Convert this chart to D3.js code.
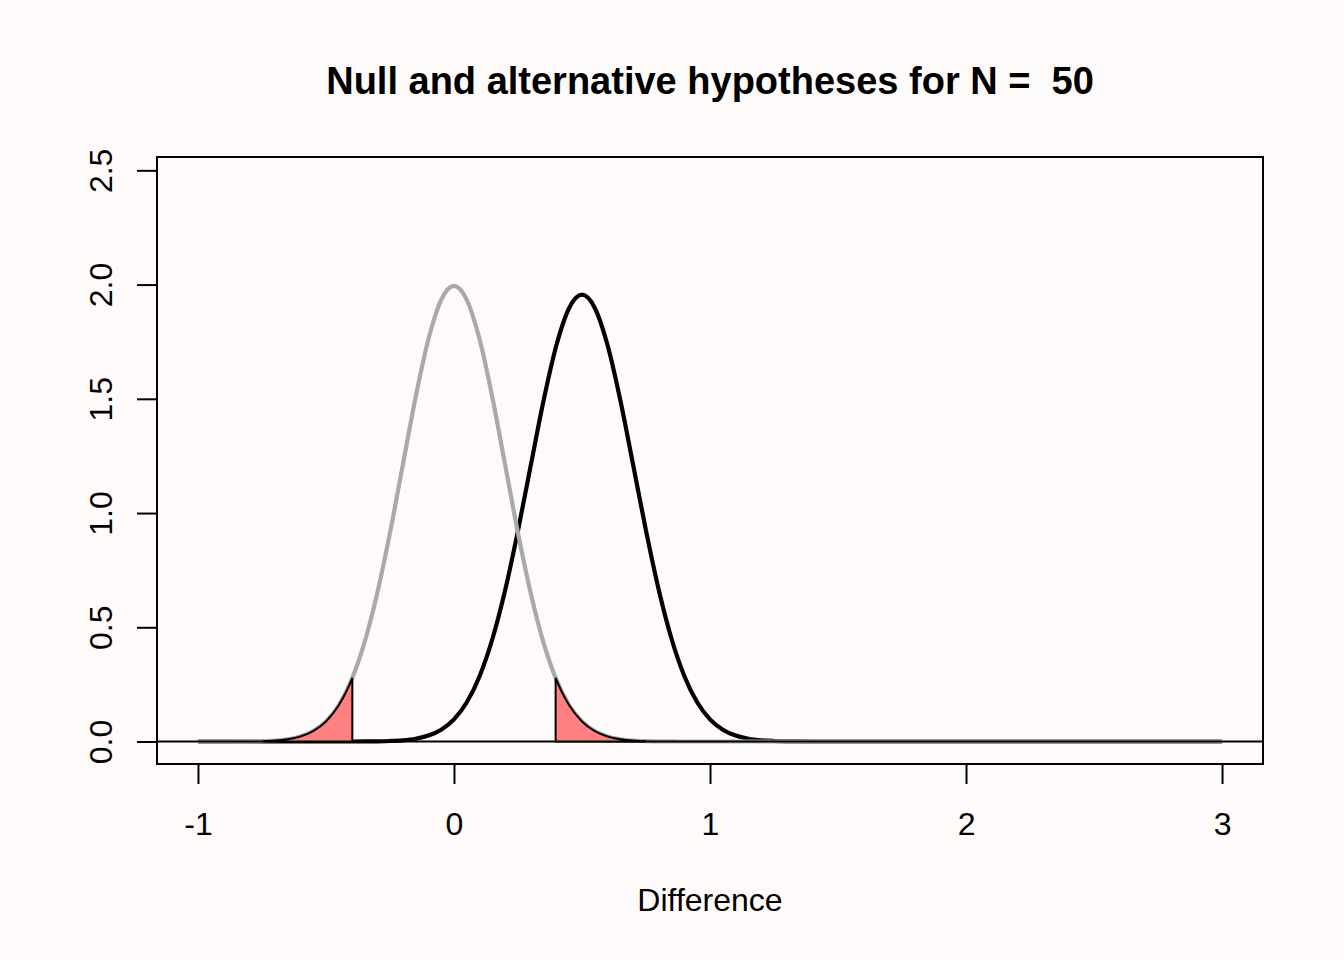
<!DOCTYPE html>
<html><head><meta charset="utf-8">
<script src="https://cdn.jsdelivr.net/npm/d3@7"></script>
<style>body{margin:0;background:#FFFAFA}svg{display:block}</style>
</head><body>
<script>
// Sample positions along the "Difference" axis
const diffX = [
 -1.00,-0.95,-0.90,-0.85,-0.80,-0.75,-0.70,-0.65,-0.60,-0.55,
 -0.50,-0.45,-0.40,-0.35,-0.30,-0.25,-0.20,-0.15,-0.10,-0.05,
  0.00, 0.05, 0.10, 0.15, 0.20, 0.25, 0.30, 0.35, 0.40, 0.45,
  0.50, 0.55, 0.60, 0.65, 0.70, 0.75, 0.80, 0.85, 0.90, 0.95,
  1.00, 1.05, 1.10, 1.15, 1.20, 1.25, 1.30, 1.35, 1.40, 1.45,
  1.50, 1.55, 1.60, 1.65, 1.70, 1.75, 1.80, 1.85, 1.90, 1.95,
  2.00, 2.05, 2.10, 2.15, 2.20, 2.25, 2.30, 2.35, 2.40, 2.45,
  2.50, 2.55, 2.60, 2.65, 2.70, 2.75, 2.80, 2.85, 2.90, 2.95, 3.00];
// Null hypothesis density (grey curve)
const nullDensity = [
 0,0,0.0001,0.0002,0.0007,0.0018,0.0044,0.0101,0.0222,0.0455,
 0.0876,0.1587,0.2700,0.4314,0.6476,0.9132,1.2098,1.5057,1.7603,1.9333,
 1.9947,1.9333,1.7603,1.5057,1.2098,0.9132,0.6476,0.4314,0.2700,0.1587,
 0.0876,0.0455,0.0222,0.0101,0.0044,0.0018,0.0007,0.0002,0.0001,0,
 0,0,0,0,0,0,0,0,0,0,
 0,0,0,0,0,0,0,0,0,0,
 0,0,0,0,0,0,0,0,0,0,
 0,0,0,0,0,0,0,0,0,0,0];
// Alternative hypothesis density (black curve)
const altDensity = [
 0,0,0,0,0,0,0,0,0,0,
 0,0,0.0001,0.0003,0.0009,0.0023,0.0054,0.0122,0.0259,0.0516,
 0.0970,0.1717,0.2860,0.4488,0.6632,0.9229,1.2094,1.4924,1.7342,1.8977,
 1.9556,1.8977,1.7342,1.4924,1.2094,0.9229,0.6632,0.4488,0.2860,0.1717,
 0.0970,0.0516,0.0259,0.0122,0.0054,0.0023,0.0009,0.0003,0.0001,0,
 0,0,0,0,0,0,0,0,0,0,
 0,0,0,0,0,0,0,0,0,0,
 0,0,0,0,0,0,0,0,0,0,0];
// Rejection regions (red), under the null curve
const leftTailX  = [-0.745,-0.70,-0.65,-0.60,-0.55,-0.50,-0.45,-0.42,-0.397];
const leftTailY  = [0.0019,0.0044,0.0101,0.0222,0.0455,0.0876,0.1587,0.2199,0.2782];
const rightTailX = [0.397,0.42,0.45,0.50,0.55,0.60,0.65,0.70,0.745];
const rightTailY = [0.2782,0.2199,0.1587,0.0876,0.0455,0.0222,0.0101,0.0044,0.0019];

const xTicks = [-1, 0, 1, 2, 3];
const xTickLabels = ["-1", "0", "1", "2", "3"];
const yTicks = [0, 0.5, 1, 1.5, 2, 2.5];
const yTickLabels = ["0.0", "0.5", "1.0", "1.5", "2.0", "2.5"];
const titleText = "Null and alternative hypotheses for N =  50";
const xLabel = "Difference";

const W = 1344, H = 960;
const L = 157, R = 1263, T = 157, B = 764;
const FONT = "'Liberation Sans', Arial, Helvetica, sans-serif";

const svg = d3.select("body").append("svg")
  .attr("width", W).attr("height", H)
  .style("background", "#FFFAFA");

const x = d3.scaleLinear().domain([-1.16, 3.16]).range([L, R]);
const y = d3.scaleLinear().domain([-0.0984, 2.5584]).range([B, T]);

const line = d3.line().x(d => x(d[0])).y(d => y(d[1])).curve(d3.curveMonotoneX);

const altPts = diffX.map((v, i) => [v, altDensity[i]]);
const nullPts = diffX.map((v, i) => [v, nullDensity[i]]);

svg.append("defs").append("clipPath").attr("id", "plotclip")
  .append("rect").attr("x", L).attr("y", T).attr("width", R - L).attr("height", B - T);

const plot = svg.append("g").attr("clip-path", "url(#plotclip)");

plot.append("path").attr("d", line(altPts))
  .attr("fill", "none").attr("stroke", "#000").attr("stroke-width", 4.2)
  .attr("stroke-linejoin", "round");
plot.append("path").attr("d", line(nullPts))
  .attr("fill", "none").attr("stroke", "#A9A9A9").attr("stroke-width", 4.2)
  .attr("stroke-linejoin", "round");

// horizontal reference line at 0
plot.append("line")
  .attr("x1", L).attr("x2", R).attr("y1", y(0)).attr("y2", y(0))
  .attr("stroke", "#000").attr("stroke-width", 2);

const area = d3.area().x(d => x(d[0])).y0(y(0)).y1(d => y(d[1])).curve(d3.curveMonotoneX);
[[leftTailX, leftTailY], [rightTailX, rightTailY]].forEach(([tx, ty]) => {
  plot.append("path")
    .attr("d", area(tx.map((v, i) => [v, ty[i]])))
    .attr("fill", "#FF8080").attr("stroke", "#000").attr("stroke-width", 2)
    .attr("stroke-linejoin", "miter");
});

// box
svg.append("rect").attr("x", L).attr("y", T).attr("width", R - L).attr("height", B - T)
  .attr("fill", "none").attr("stroke", "#000").attr("stroke-width", 2);

// x axis
const gx = svg.append("g").attr("transform", `translate(0,${B})`)
  .call(d3.axisBottom(x).tickValues(xTicks).tickSize(20)
    .tickFormat((d, i) => xTickLabels[i]));
gx.select(".domain").remove();
gx.selectAll(".tick line").attr("stroke", "#000").attr("stroke-width", 2);
gx.selectAll(".tick text")
  .attr("y", 71).attr("dy", 0)
  .attr("font-family", FONT).attr("font-size", 32).attr("fill", "#000");

// y axis
const gy = svg.append("g").attr("transform", `translate(${L},0)`)
  .call(d3.axisLeft(y).tickValues(yTicks).tickSize(20)
    .tickFormat((d, i) => yTickLabels[i]));
gy.select(".domain").remove();
gy.selectAll(".tick line").attr("stroke", "#000").attr("stroke-width", 2);
gy.selectAll(".tick text")
  .attr("x", 0).attr("y", 0).attr("dy", 0)
  .attr("text-anchor", "middle")
  .attr("transform", "translate(-45,0) rotate(-90)")
  .attr("font-family", FONT).attr("font-size", 32).attr("fill", "#000");

// title
svg.append("text").attr("x", (L + R) / 2).attr("y", 94)
  .attr("text-anchor", "middle")
  .attr("font-family", FONT).attr("font-size", 38).attr("font-weight", "bold")
  .attr("fill", "#000").style("white-space", "pre")
  .text(titleText);

// x label
svg.append("text").attr("x", (L + R) / 2).attr("y", 911)
  .attr("text-anchor", "middle")
  .attr("font-family", FONT).attr("font-size", 32).attr("fill", "#000")
  .text(xLabel);
</script>
</body></html>
